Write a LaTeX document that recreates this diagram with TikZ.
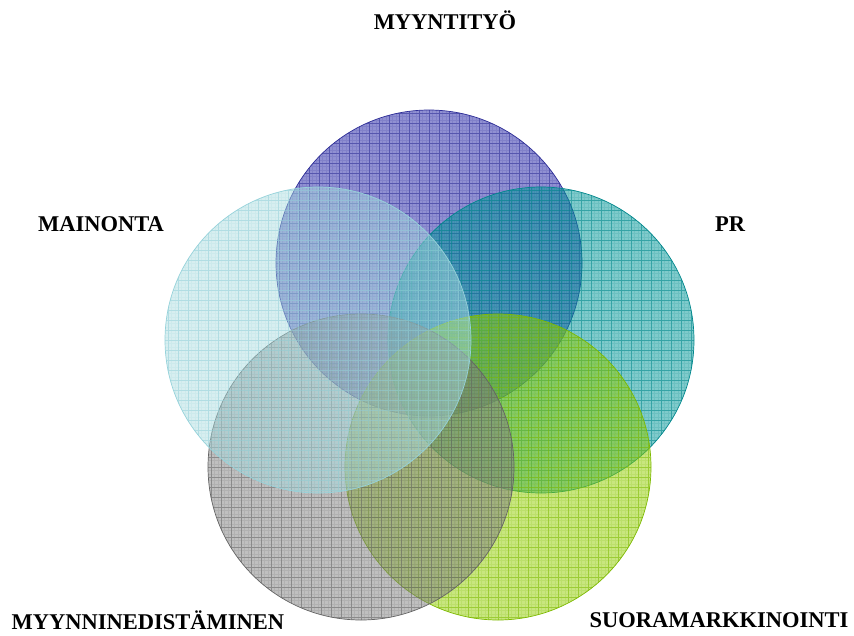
\documentclass[tikz,border=0pt]{standalone}
\usepackage{fontspec}
\setmainfont{Liberation Serif}
\definecolor{purpF}{RGB}{70,70,180}
\definecolor{purpL}{RGB}{45,45,150}
\definecolor{tealF}{RGB}{0,150,152}
\definecolor{tealL}{RGB}{0,135,140}
\definecolor{cyanF}{RGB}{167,218,222}
\definecolor{cyanL}{RGB}{150,210,218}
\definecolor{grayF}{RGB}{128,128,128}
\definecolor{grayL}{RGB}{100,100,100}
\definecolor{greenF}{RGB}{145,205,0}
\definecolor{greenL}{RGB}{125,185,0}
\tikzset{
  venn/.style n args={3}{circle, minimum size=306pt, inner sep=0pt,
    fill=#1, fill opacity=#3, draw=#2, line width=0.7pt, draw opacity=1,
    path picture={
      \draw[#2, line width=0.25pt, draw opacity=0.15]
        (path picture bounding box.south west) grid[step=3.333pt] (path picture bounding box.north east);
      \draw[#2, line width=0.6pt, draw opacity=0.5]
        (path picture bounding box.south west) grid[step=10pt] (path picture bounding box.north east);
    }},
  lbl/.style={font=\fontsize{22.5}{27}\selectfont\bfseries, text=black, inner sep=0pt}
}
\begin{document}
\begin{tikzpicture}[x=1pt,y=-1pt]
\useasboundingbox (0,0) rectangle (854,635);
\node[venn={purpF}{purpL}{0.6}] (myynti) at (429,263) {};
\node[venn={tealF}{tealL}{0.5}] (pr) at (541,340) {};
\node[venn={greenF}{greenL}{0.5}] (suora) at (498,467) {};
\node[venn={grayF}{grayL}{0.5}] (edist) at (361,467) {};
\node[venn={cyanF}{cyanL}{0.45}] (mainonta) at (318,340) {};
\node[lbl] (tMyynti) at (445,20) {MYYNTITYÖ};
\node[lbl] (tMain) at (101,224) {MAINONTA};
\node[lbl] (tPR) at (730,224) {PR};
\node[lbl] (tEdist) at (148,620) {MYYNNINEDISTÄMINEN};
\node[lbl] (tSuora) at (719,620) {SUORAMARKKINOINTI};
\end{tikzpicture}
\end{document}
